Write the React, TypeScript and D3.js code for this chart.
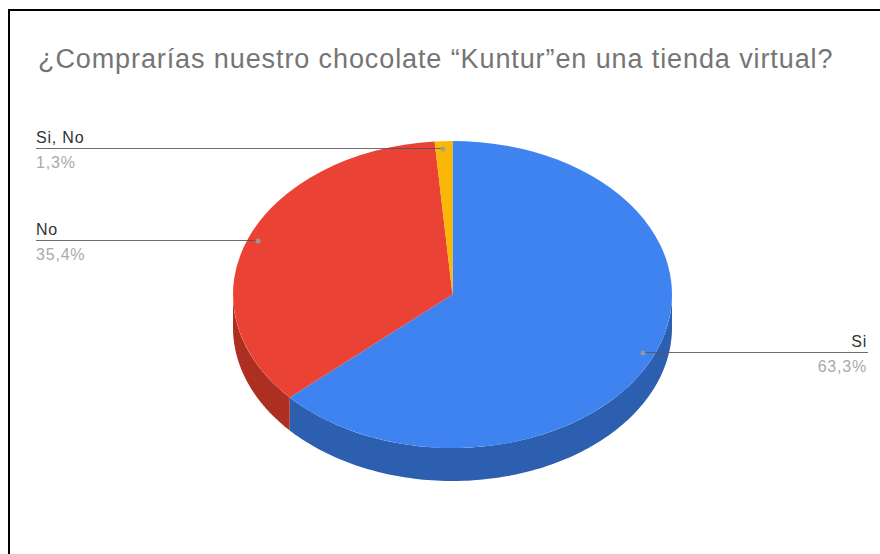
import React from "react";
import * as d3 from "d3";

const categories = ["Si", "No", "Si, No"];
const shares = [63.3, 35.4, 1.3];
const shareLabels = ["63,3%", "35,4%", "1,3%"];
const topColors = ["#3f83f1", "#ea4335", "#fbb705"];
const sideColors = ["#2d5fb0", "#ad2f22", "#b5870a"];
const chartTitle = "¿Comprarías nuestro chocolate “Kuntur”en una tienda virtual?";

const WIDTH = 880;
const HEIGHT = 554;
const CX = 452.5;
const CY = 294.5;
const RX = 219.5;
const RY = 153.5;
const DEPTH = 33;
const FONT = "'Liberation Sans', Arial, sans-serif";

// Leader callouts: where the line ends on the label side, and its height.
const calloutLayout = [
  { y: 353, anchorX: 643, endX: 868, align: "end" },
  { y: 241, anchorX: 258, endX: 36, align: "start" },
  { y: 149, anchorX: 443, endX: 36, align: "start" },
];

const pie = d3.pie<number>().sort(null).value((d) => d);
const slices = pie(shares);

const flatArc = d3.arc<d3.PieArcDatum<number>>().innerRadius(0).outerRadius(RX);

// Point on the tilted rim for a clockwise-from-top angle.
const rim = (a: number, drop = 0): [number, number] => [
  CX + RX * Math.sin(a),
  CY - RY * Math.cos(a) + drop,
];

// Visible outer wall of a slice: only the front half (π/2..3π/2) shows.
function wallPath(start: number, end: number): string | null {
  const a0 = Math.max(start, Math.PI / 2);
  const a1 = Math.min(end, (3 * Math.PI) / 2);
  if (a1 <= a0) return null;
  const angles = d3.range(0, 121).map((i) => a0 + ((a1 - a0) * i) / 120);
  const outline = [
    ...angles.map((a) => rim(a)),
    ...angles.slice().reverse().map((a) => rim(a, DEPTH)),
  ];
  return d3.line()(outline) + "Z";
}

export default function App() {
  return (
    <svg
      width={WIDTH}
      height={HEIGHT}
      viewBox={`0 0 ${WIDTH} ${HEIGHT}`}
      style={{ position: "absolute", left: 0, top: 0, background: "#fff" }}
    >
      <path d={`M9,${HEIGHT}V10H${WIDTH}`} fill="none" stroke="#000" strokeWidth={2} />
      <text x={38} y={68} fontFamily={FONT} fontSize={27} letterSpacing={0.9} fill="#757575">
        {chartTitle}
      </text>

      {slices.map((s, i) => {
        const d = wallPath(s.startAngle, s.endAngle);
        return d ? <path key={i} d={d} fill={sideColors[i]} /> : null;
      })}
      <g transform={`translate(${CX},${CY}) scale(1,${RY / RX})`}>
        {slices.map((s, i) => (
          <path key={i} d={flatArc(s) ?? ""} fill={topColors[i]} />
        ))}
      </g>

      {categories.map((name, i) => {
        const c = calloutLayout[i];
        const textX = c.align === "end" ? c.endX - 1 : c.endX;
        return (
          <g key={name} fontFamily={FONT} fontSize={16} letterSpacing={0.8} textAnchor={c.align}>
            <line x1={c.anchorX} x2={c.endX} y1={c.y - 0.5} y2={c.y - 0.5} stroke="#555" strokeOpacity={0.85} strokeWidth={1} />
            <circle cx={c.anchorX} cy={c.y} r={2.5} fill="#9e9e9e" fillOpacity={0.85} />
            <text x={textX} y={c.y - 6} fill="#333">
              {name}
            </text>
            <text x={textX} y={c.y + 19} fill="#aaaaaa">
              {shareLabels[i]}
            </text>
          </g>
        );
      })}
    </svg>
  );
}
